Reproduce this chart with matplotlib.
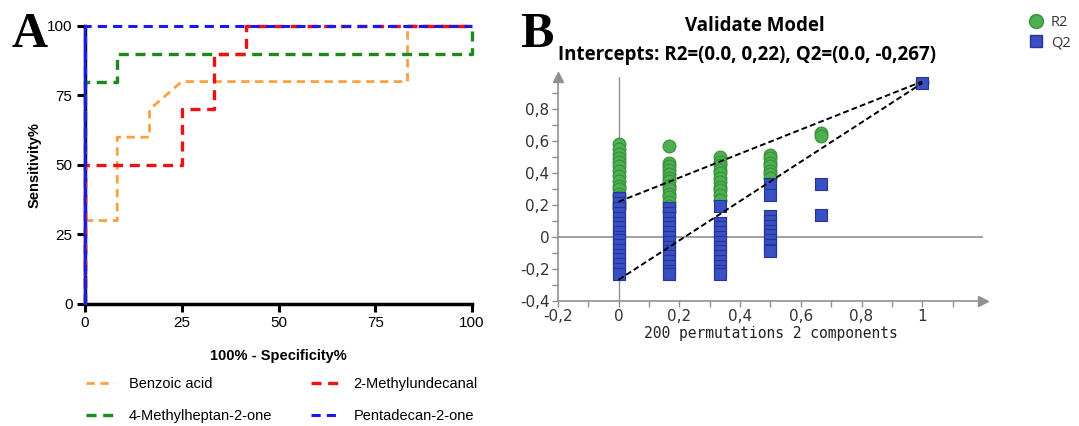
import matplotlib.pyplot as plt
from matplotlib.lines import Line2D

# ROC curves (100% - specificity %, sensitivity %)
benzoic_x = [0, 0, 8.33, 8.33, 16.67, 16.67, 25, 83.33, 83.33, 100]
benzoic_y = [0, 30, 30, 60, 60, 70, 80, 80, 100, 100]
methylundecanal_x = [0, 0, 25, 25, 33.33, 33.33, 41.67, 41.67, 100]
methylundecanal_y = [0, 50, 50, 70, 70, 90, 90, 100, 100]
methylheptanone_x = [0, 0, 8.33, 8.33, 100, 100]
methylheptanone_y = [0, 80, 80, 90, 90, 100]
pentadecanone_x = [0, 0, 100]
pentadecanone_y = [0, 100, 100]

# permutation test: correlation of permuted y with original y
perm_x = [0, 0.1667, 0.3333, 0.5, 0.6667, 1.0]
r2_values = [
    [0.58, 0.55, 0.52, 0.49, 0.47, 0.44, 0.41, 0.38, 0.35, 0.32, 0.30, 0.27, 0.25, 0.22, 0.20, 0.18],
    [0.57, 0.46, 0.44, 0.42, 0.39, 0.37, 0.35, 0.32, 0.30, 0.27, 0.25, 0.22, 0.19, 0.16],
    [0.50, 0.47, 0.45, 0.42, 0.40, 0.37, 0.34, 0.31, 0.29, 0.26, 0.23],
    [0.51, 0.49, 0.46, 0.44, 0.41, 0.39, 0.37],
    [0.65, 0.63],
    [0.97],
]
q2_values = [
    [0.24, 0.21, 0.18, 0.15, 0.12, 0.09, 0.06, 0.03, 0.00, -0.02, -0.05, -0.08, -0.11, -0.14, -0.17, -0.20, -0.23],
    [0.18, 0.15, 0.12, 0.09, 0.06, 0.03, 0.00, -0.03, -0.06, -0.09, -0.12, -0.15, -0.18, -0.21, -0.23],
    [0.19, 0.09, 0.06, 0.03, 0.00, -0.03, -0.06, -0.09, -0.12, -0.15, -0.18, -0.21, -0.23],
    [0.33, 0.26, 0.13, 0.10, 0.07, 0.04, 0.01, -0.02, -0.05, -0.08, -0.09],
    [0.33, 0.14],
    [0.96],
]
r2_intercept = 0.22
q2_intercept = -0.267
r2_end = 0.97
q2_end = 0.96

fig = plt.figure(figsize=(10.79, 4.26), dpi=100)

# ---- A: ROC curves ----
ax = fig.add_axes([0.0788, 0.2864, 0.3587, 0.6526])
dash = (0, (3, 2))
ax.plot(benzoic_x, benzoic_y, color='#ffa040', lw=2, linestyle=dash, clip_on=False, zorder=3)
ax.plot(methylheptanone_x, methylheptanone_y, color='#1a8a1a', lw=2.4, linestyle=dash, clip_on=False, zorder=3)
ax.plot(methylundecanal_x, methylundecanal_y, color='#ee1111', lw=2.4, linestyle=dash, clip_on=False, zorder=3)
ax.plot(pentadecanone_x, pentadecanone_y, color='#1a1aee', lw=2.2, linestyle=dash, clip_on=False, zorder=3)
ax.plot([0, 0], [0, 100], color='#1a1aee', lw=1.6, clip_on=False, zorder=3)

ax.set_xlim(0, 100)
ax.set_ylim(0, 100)
ax.set_xticks([0, 25, 50, 75, 100])
ax.set_yticks([0, 25, 50, 75, 100])
for s in ['top', 'right']:
    ax.spines[s].set_visible(False)
for s in ['left', 'bottom']:
    ax.spines[s].set_linewidth(2.5)
ax.tick_params(width=2.2, length=6, labelsize=11, pad=3)
for lab in ax.get_xticklabels() + ax.get_yticklabels():
    lab.set_family('Liberation Sans')
ax.set_ylabel('Sensitivity%', fontsize=10.5, fontweight='bold', family='Liberation Sans', labelpad=4)
ax.set_xlabel('100% - Specificity%', fontsize=10.5, fontweight='bold', family='Liberation Sans', labelpad=13)

handles = [
    Line2D([], [], color='#ffa040', lw=2, linestyle=dash),
    Line2D([], [], color='#1a8a1a', lw=2.4, linestyle=dash),
    Line2D([], [], color='#ee1111', lw=2.4, linestyle=dash),
    Line2D([], [], color='#1a1aee', lw=2.2, linestyle=dash),
]
labels = ['Benzoic acid', '4-Methylheptan-2-one', '2-Methylundecanal', 'Pentadecan-2-one']
fig.legend(handles, labels, ncol=2, frameon=False, loc='upper left',
           bbox_to_anchor=(0.080, 0.115), prop={'family': 'Liberation Sans', 'size': 10.5},
           handlelength=1.9, handletextpad=1.0, columnspacing=2.7, labelspacing=1.25,
           borderaxespad=0, borderpad=0)

fig.text(0.011, 0.89, 'A', fontsize=36, fontweight='bold', family='Liberation Serif', va='baseline')

# ---- B: permutation validation ----
bx = fig.add_axes([0.5171, 0.2934, 0.3939, 0.5265])
grey = '#909090'
bx.axhline(0, color=grey, lw=1.2, zorder=1)
bx.plot([0, 0], [-0.4, 1.0], color=grey, lw=1, zorder=1)

for x, ys in zip(perm_x, r2_values):
    bx.scatter([x] * len(ys), ys, s=85, marker='o', facecolor='#4caf50',
               edgecolor='#3a8f3a', linewidth=0.8, zorder=3)
for x, ys in zip(perm_x, q2_values):
    bx.scatter([x] * len(ys), ys, s=75, marker='s', facecolor='#3a4fc0',
               edgecolor='#25349a', linewidth=0.8, zorder=4)

bx.plot([0, 1], [r2_intercept, r2_end], color='black', lw=1.4, linestyle=(0, (3, 1.6)), zorder=5)
bx.plot([0, 1], [q2_intercept, q2_end], color='black', lw=1.4, linestyle=(0, (3, 1.6)), zorder=5)

bx.set_xlim(-0.2, 1.2)
bx.set_ylim(-0.4, 1.0)
for s in ['top', 'right']:
    bx.spines[s].set_visible(False)
for s in ['left', 'bottom']:
    bx.spines[s].set_color(grey)
    bx.spines[s].set_linewidth(1.2)
bx.plot([-0.2], [1.0], marker='^', color=grey, markersize=7, clip_on=False)
bx.plot([1.2], [-0.4], marker='>', color=grey, markersize=7, clip_on=False)

xt = [-0.2, 0, 0.2, 0.4, 0.6, 0.8, 1.0]
yt = [-0.4, -0.2, 0, 0.2, 0.4, 0.6, 0.8]
bx.set_xticks(xt)
bx.set_xticklabels([f'{v:g}'.replace('.', ',') for v in xt])
bx.set_yticks(yt)
bx.set_yticklabels([f'{v:g}'.replace('.', ',') for v in yt])
bx.set_xticks([-0.1, 0.1, 0.3, 0.5, 0.7, 0.9, 1.1], minor=True)
bx.set_yticks([-0.3, -0.1, 0.1, 0.3, 0.5, 0.7, 0.9], minor=True)
bx.tick_params(which='both', color=grey, length=4, width=1, labelsize=11, labelcolor='#333333', pad=2)
bx.set_xlabel('200 permutations 2 components', family='DejaVu Sans Mono', fontsize=10.5,
              color='#222222', labelpad=1)

fig.text(0.700, 0.94, 'Validate Model', ha='center', va='center', fontsize=13.5,
         fontweight='bold', family='Open Sans')
fig.text(0.692, 0.87, 'Intercepts: R2=(0.0, 0,22), Q2=(0.0, -0,267)', ha='center', va='center',
         fontsize=13.5, fontweight='bold', family='Open Sans')
fig.text(0.482, 0.89, 'B', fontsize=36, fontweight='bold', family='Liberation Serif', va='baseline')

leg = bx.legend(handles=[
    Line2D([], [], marker='o', linestyle='none', markerfacecolor='#4caf50', markeredgecolor='#3a8f3a', markersize=10),
    Line2D([], [], marker='s', linestyle='none', markerfacecolor='#3a4fc0', markeredgecolor='#25349a', markersize=9),
], labels=['R2', 'Q2'], loc='upper left', bbox_to_anchor=(0.947, 0.964), bbox_transform=fig.transFigure,
    frameon=False, handletextpad=0.0, labelspacing=0.35, borderpad=0, borderaxespad=0,
    prop={'family': 'Open Sans', 'size': 10.5})
for t in leg.get_texts():
    t.set_color('#333333')

fig.savefig('out.png', dpi=100)
